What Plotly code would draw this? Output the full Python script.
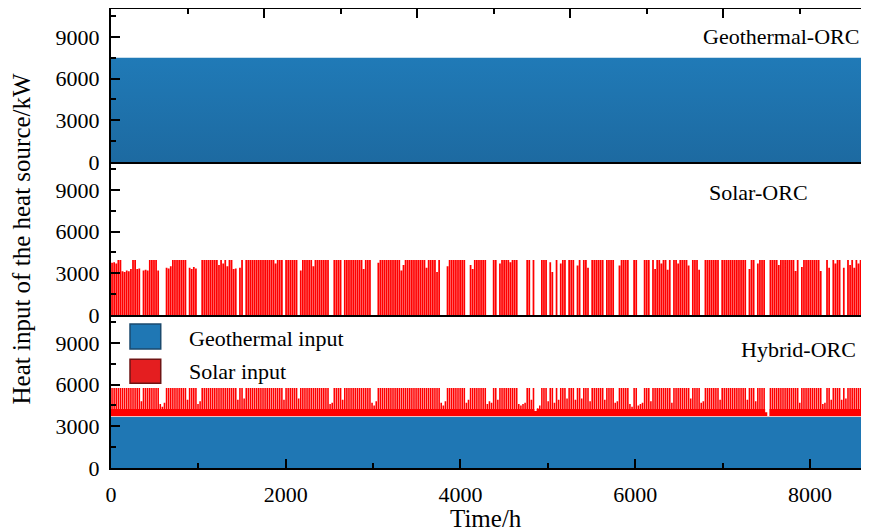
import plotly.graph_objects as go

# ---------------- data ----------------
N_DAYS = 365
HOURS_PER_DAY = 24
time_span_h = [0, 8760]

geothermal_orc_kw = 7500        # Geothermal-ORC heat input (constant all year)
hybrid_geothermal_kw = 3700     # Hybrid-ORC geothermal input (constant all year)

# Solar-ORC: daily plateau of the solar heat input
solar_orc_full_kw = 3950
solar_orc_off_days = [14, 23, 24, 25, 36, 41, 42, 60, 63, 82, 89, 104, 105, 110, 124, 125, 126,
                      157, 158, 159, 169, 170, 179, 180, 181, 184, 194, 195, 196, 197, 200,
                      202, 203, 204, 208, 211, 213, 217, 221, 224, 228, 235, 240, 241, 247, 248,
                      251, 252, 253, 257, 267, 276, 281, 282, 290, 303, 307, 312, 313, 328,
                      339, 340, 343, 348, 350, 360, 361]
solar_orc_reduced_kw = {0: 3750, 1: 3800, 2: 3700, 5: 3150, 6: 3100, 7: 3200, 8: 3150, 9: 3300,
                        12: 3300, 13: 3350, 15: 3200, 16: 3250, 17: 3200, 22: 3200, 26: 3400,
                        27: 3350, 28: 3500, 37: 3400, 38: 3300, 39: 3450, 40: 3350, 51: 3600,
                        53: 3700, 55: 3500, 58: 3300, 59: 3350, 61: 3400, 78: 3700, 90: 3200,
                        96: 3500, 120: 3300, 127: 3750, 138: 3200, 139: 3600, 150: 3400,
                        155: 3100, 160: 3500, 171: 3600, 172: 3300, 185: 3700, 190: 3800,
                        209: 3800, 210: 3100, 214: 3700, 222: 3550, 227: 3400, 242: 3550,
                        259: 3300, 262: 3700, 265: 3250, 270: 3700, 275: 3550, 280: 3250,
                        304: 3300, 308: 3700, 318: 3600, 326: 3170, 329: 3450, 338: 3170,
                        342: 3400, 345: 3700, 349: 3400, 352: 3600, 354: 3400, 356: 3700,
                        358: 3500, 362: 3300}
solar_on_hours = [2, 22]          # daily operating window (hour of day)

# Hybrid-ORC: solar share on top of the geothermal input
hybrid_solar_full_kw = 2050
hybrid_solar_night_kw = 550
hybrid_peak_hours = [3, 21]
hybrid_solar_dip_kw = {14: 1100, 23: 900, 24: 700, 25: 1000, 36: 1200, 41: 900, 42: 1100,
                       60: 1200, 63: 1300, 82: 1200, 89: 1300, 104: 900, 105: 1000, 110: 1200,
                       124: 1000, 125: 800, 126: 1100, 157: 1000, 158: 800, 159: 1100,
                       169: 1000, 170: 1200, 179: 900, 180: 1100, 181: 1000, 184: 1200,
                       194: 900, 195: 800, 196: 900, 197: 1000, 200: 1200, 202: 400, 203: 600,
                       204: 800, 208: 1100, 211: 1000, 213: 1200, 217: 1300, 221: 1200,
                       224: 1300, 228: 1100, 235: 1200, 240: 1000, 241: 1100, 247: 900,
                       248: 700, 251: 800, 252: 900, 253: 1000, 257: 1100, 267: 1000,
                       276: 1300, 281: 1000, 282: 1100, 290: 1200, 303: 1200, 307: 1100,
                       312: 300, 313: 0, 328: 1000, 339: 900, 340: 1000, 343: 1200,
                       348: 1200, 350: 1300, 360: 1100, 361: 1200}

y_ticks = [0, 3000, 6000, 9000]
x_ticks = [0, 2000, 4000, 6000, 8000]

# ---------------- build step series (daily values -> step outline) ----------------
solar_x, solar_y = [0], [0]
hyb_x, hyb_y = [0], [hybrid_geothermal_kw + hybrid_solar_night_kw]
for d in range(N_DAYS):
    s = d * HOURS_PER_DAY
    if d in solar_orc_off_days:
        v = 0
    else:
        v = solar_orc_reduced_kw.get(d, solar_orc_full_kw)
    solar_x += [s + solar_on_hours[0], s + solar_on_hours[1]]
    solar_y += [v, 0]
    p = hybrid_solar_dip_kw.get(d, hybrid_solar_full_kw)
    n = min(hybrid_solar_night_kw, p)
    hyb_x += [s, s + hybrid_peak_hours[0], s + hybrid_peak_hours[1]]
    hyb_y += [hybrid_geothermal_kw + n, hybrid_geothermal_kw + p, hybrid_geothermal_kw + n]
solar_x.append(N_DAYS * HOURS_PER_DAY)
solar_y.append(0)
hyb_x.append(N_DAYS * HOURS_PER_DAY)
hyb_y.append(hyb_y[-1])

BLUE = "#1f77b4"
RED = "#ff0000"
FONT = "Liberation Serif"

fig = go.Figure()

# top panel: Geothermal-ORC
fig.add_trace(go.Scatter(x=time_span_h, y=[geothermal_orc_kw] * 2, mode="lines",
                         line=dict(width=0), fill="tozeroy",
                         fillgradient=dict(type="vertical", start=0, stop=geothermal_orc_kw,
                                           colorscale=[[0, "#1d6aa1"], [1, "#207ab7"]]),
                         xaxis="x3", yaxis="y3", showlegend=False, hoverinfo="skip"))

# middle panel: Solar-ORC
fig.add_trace(go.Scatter(x=solar_x, y=solar_y, mode="lines", line=dict(width=0, shape="hv"),
                         fill="tozeroy", fillcolor=RED, xaxis="x2", yaxis="y2",
                         showlegend=False, hoverinfo="skip"))

# bottom panel: Hybrid-ORC
fig.add_trace(go.Scatter(x=time_span_h, y=[hybrid_geothermal_kw] * 2, mode="lines",
                         line=dict(width=0), fill="tozeroy", fillcolor=BLUE,
                         xaxis="x", yaxis="y", showlegend=False, hoverinfo="skip"))
fig.add_trace(go.Scatter(x=hyb_x, y=hyb_y, mode="lines", line=dict(width=0, shape="hv"),
                         fill="tonexty", fillcolor=RED, xaxis="x", yaxis="y", showlegend=False,
                         hoverinfo="skip"))
fig.add_trace(go.Scatter(x=time_span_h, y=[hybrid_geothermal_kw] * 2, mode="lines",
                         line=dict(width=1, color="#f2c4c4"),
                         xaxis="x", yaxis="y", showlegend=False, hoverinfo="skip"))

# empty traces registering the decorative overlay axes
for xa, ya in [("x4", "y3"), ("x", "y4"), ("x", "y5"), ("x", "y6")]:
    fig.add_trace(go.Scatter(x=[], y=[], xaxis=xa, yaxis=ya, showlegend=False))

X_MAX = 8665
tickfont = dict(family=FONT, size=22, color="black")
common_y = dict(range=[0, 11000], tickvals=y_ticks, ticks="inside", ticklen=9, tickwidth=2,
                tickcolor="black", showline=True, linewidth=2, linecolor="black",
                showgrid=False, zeroline=False, tickfont=tickfont, ticklabelstandoff=5,
                minor=dict(dtick=1500, tick0=0, ticks="inside", ticklen=5, tickwidth=2,
                           tickcolor="black", showgrid=False))
right_y = dict(side="right", anchor="x", range=[0, 5], dtick=1, ticks="inside", ticklen=4,
               tickwidth=2, tickcolor="black", showticklabels=False, showline=True,
               linewidth=2, linecolor="black", showgrid=False, zeroline=False)
plain_x = dict(range=[0, X_MAX], showticklabels=False, ticks="", showline=True, linewidth=2,
               linecolor="black", showgrid=False, zeroline=False)

# the page body adds an 8 px margin; the figure is sized so the plot lands where the reference has it
fig.update_layout(
    width=861, height=523, autosize=False,
    margin=dict(l=103, r=1, t=1, b=63),
    paper_bgcolor="white", plot_bgcolor="white",
    font=dict(family=FONT, color="black"),
    xaxis=dict(domain=[0, 1], anchor="y", range=[0, X_MAX], tickvals=x_ticks,
               ticks="inside", ticklen=9, tickwidth=2, tickcolor="black",
               showline=True, linewidth=2, linecolor="black", showgrid=False, zeroline=False,
               tickfont=tickfont, ticklabelstandoff=6,
               minor=dict(dtick=1000, tick0=0, ticks="inside", ticklen=5, tickwidth=2,
                          tickcolor="black", showgrid=False)),
    xaxis2=dict(anchor="y2", matches="x", **plain_x),
    xaxis3=dict(anchor="y3", matches="x", **plain_x),
    xaxis4=dict(overlaying="x3", side="top", anchor="y3", range=[0, 9895], dtick=2000,
                ticks="inside", ticklen=9, tickwidth=2, tickcolor="black",
                showticklabels=False, showline=True, linewidth=2, linecolor="black",
                showgrid=False, zeroline=False,
                minor=dict(dtick=1000, tick0=0, ticks="inside", ticklen=5, tickwidth=2,
                           tickcolor="black", showgrid=False)),
    yaxis=dict(domain=[0, 1 / 3], anchor="x", **common_y),
    yaxis2=dict(domain=[1 / 3, 2 / 3], anchor="x2", **common_y),
    yaxis3=dict(domain=[2 / 3, 1], anchor="x3", **common_y),
    yaxis4=dict(overlaying="y", **right_y),
    yaxis5=dict(overlaying="y2", **right_y),
    yaxis6=dict(overlaying="y3", **right_y),
)

ann_font = dict(family=FONT, size=22, color="black")
annotations = [
    dict(text="Geothermal-ORC", x=0.9908, y=0.939, xanchor="right", yanchor="middle", font=ann_font),
    dict(text="Solar-ORC", x=0.9234, y=0.6013, xanchor="right", yanchor="middle", font=ann_font),
    dict(text="Hybrid-ORC", x=0.9868, y=0.259, xanchor="right", yanchor="middle", font=ann_font),
    dict(text="Geothermal input", x=0.1004, y=0.2832, xanchor="left", yanchor="middle",
         font=dict(family=FONT, size=22, color="black")),
    dict(text="Solar input", x=0.1004, y=0.2113, xanchor="left", yanchor="middle",
         font=dict(family=FONT, size=22, color="black")),
    dict(text="Time/h", x=0.496, y=-0.111, xanchor="center", yanchor="middle",
         font=dict(family=FONT, size=25, color="black")),
    dict(text="Heat input of the heat source/kW", x=-0.1176, y=0.5, xanchor="center",
         yanchor="middle", textangle=-90, font=dict(family=FONT, size=25, color="black")),
]
for a in annotations:
    a.update(xref="paper", yref="paper", showarrow=False)
fig.update_layout(annotations=annotations)

fig.update_layout(shapes=[
    dict(type="rect", xref="paper", yref="paper", x0=0.0251, x1=0.0657, y0=0.2593, y1=0.3137,
         fillcolor=BLUE, line=dict(color="#1b4a6e", width=1.5)),
    dict(type="rect", xref="paper", yref="paper", x0=0.0251, x1=0.0657, y0=0.1845, y1=0.2368,
         fillcolor="#e41e20", line=dict(color="#6e1414", width=1.5)),
])

fig.write_html("out.html")
